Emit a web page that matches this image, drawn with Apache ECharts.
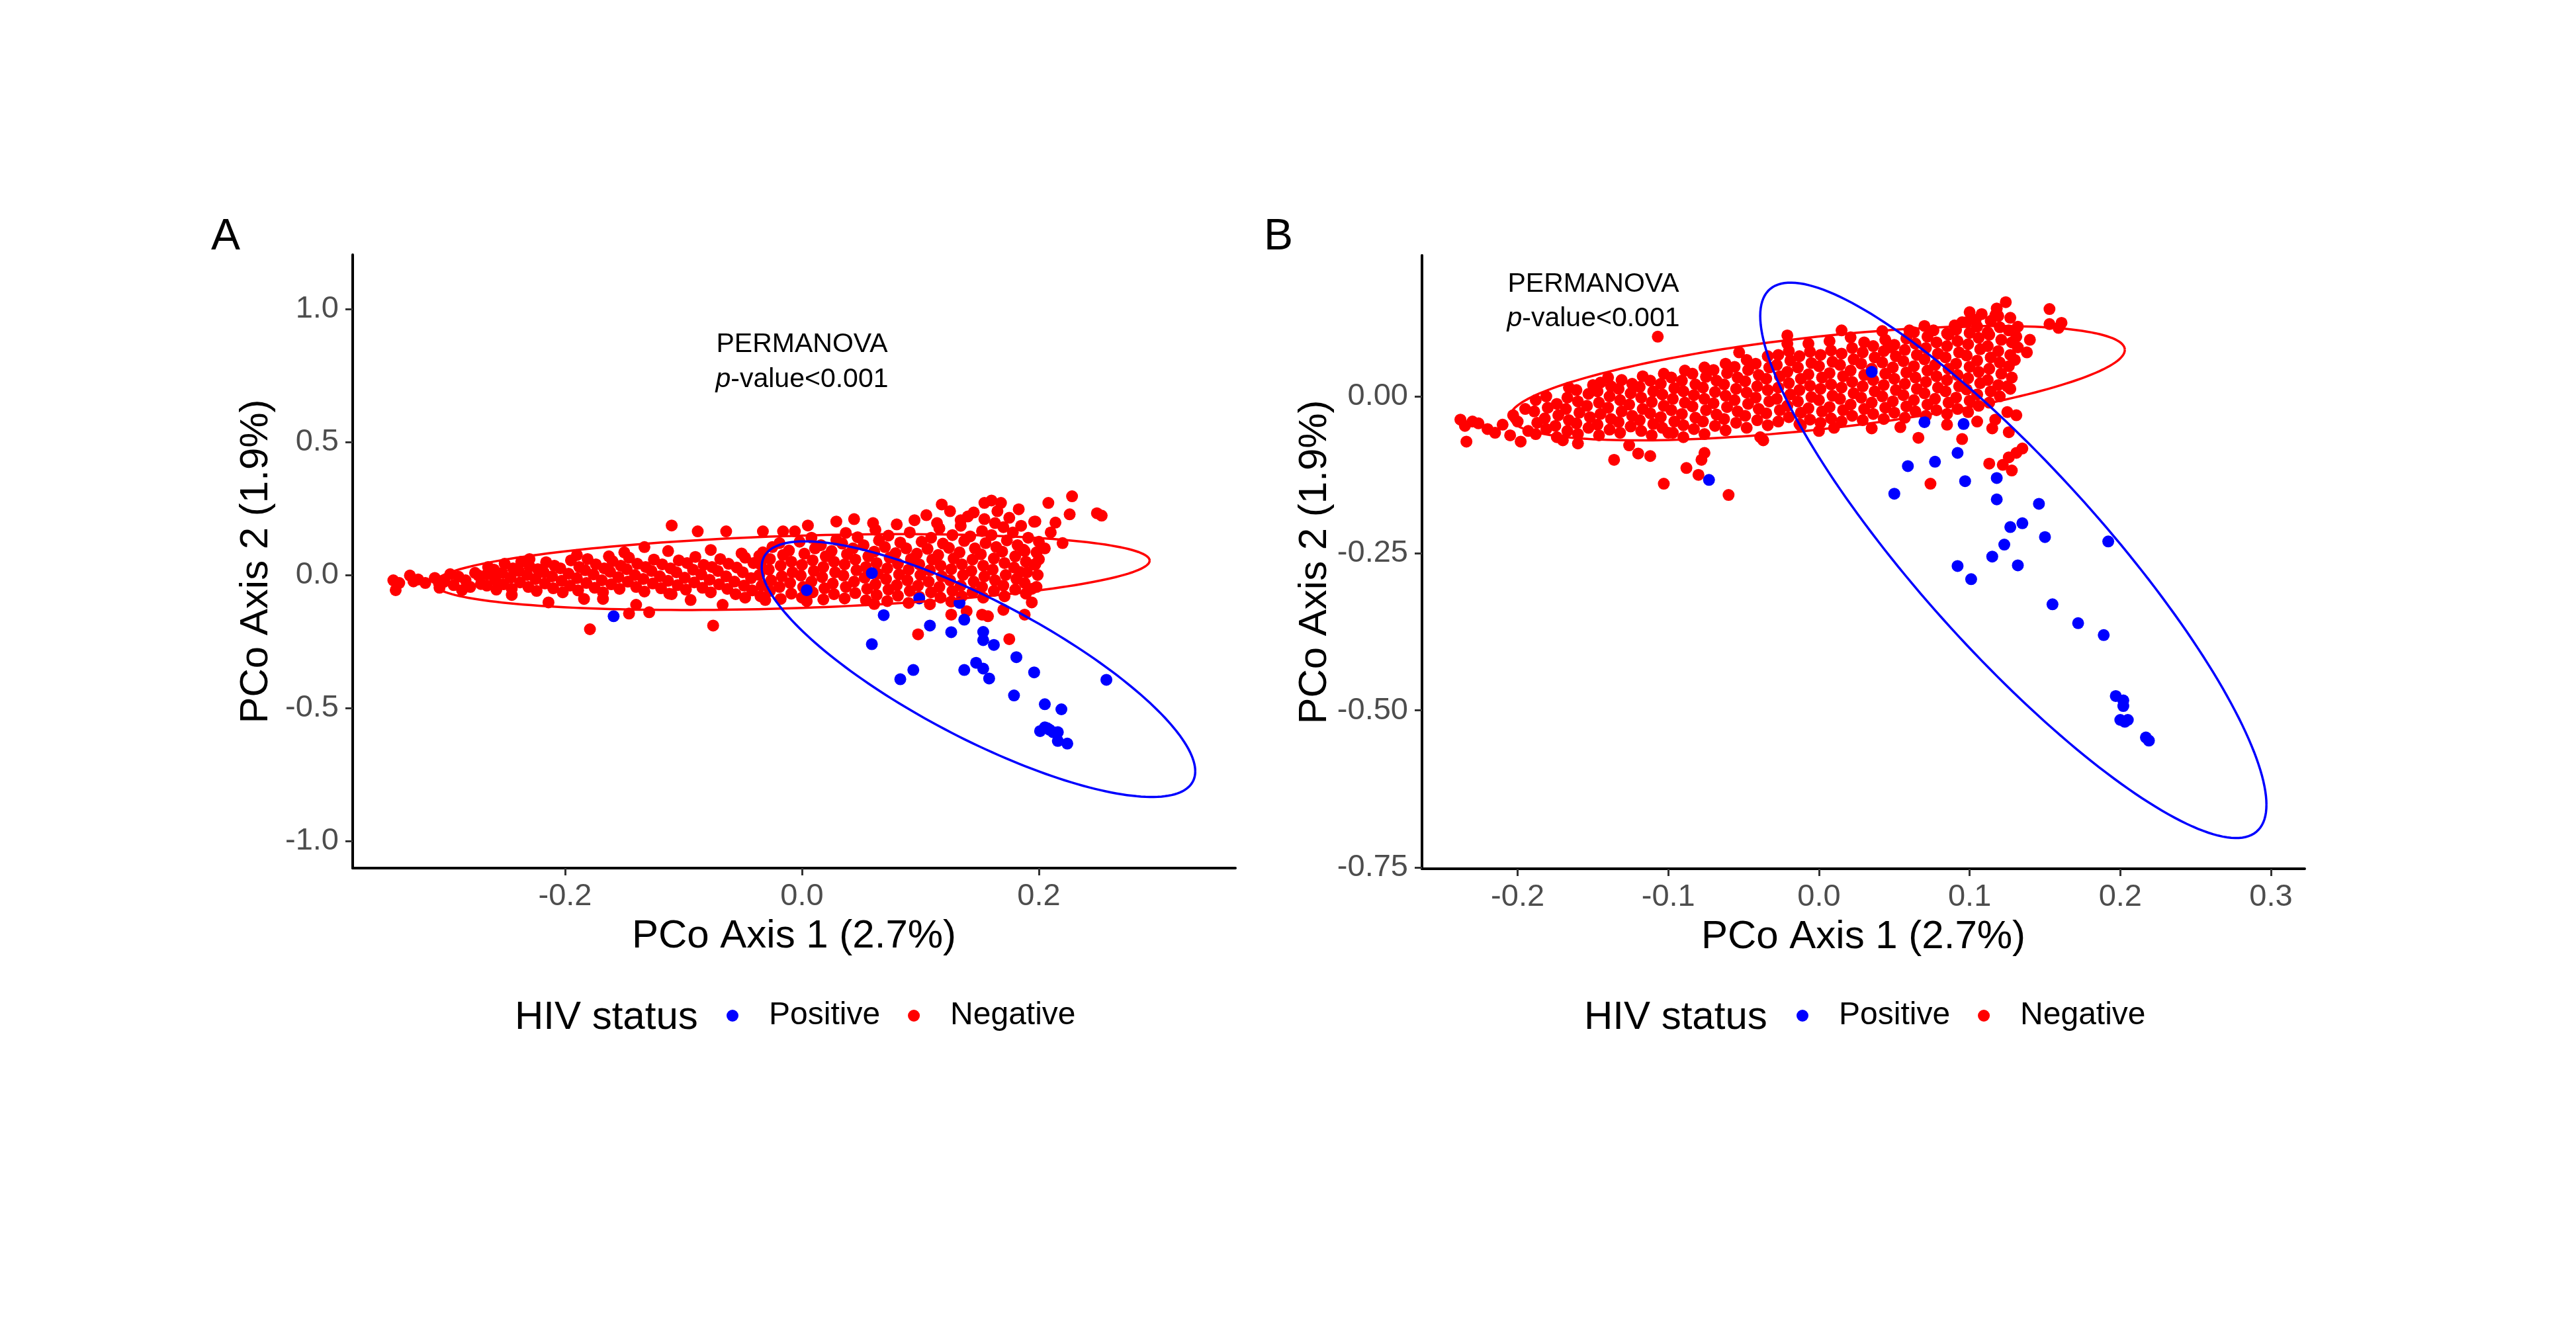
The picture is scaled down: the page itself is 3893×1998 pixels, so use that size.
<!DOCTYPE html>
<html><head><meta charset="utf-8">
<script src="https://cdn.jsdelivr.net/npm/echarts@6/dist/echarts.min.js"></script>
<style>html,body{margin:0;padding:0;background:#fff}#c{width:3893px;height:1998px}</style>
</head><body><div id="c"></div>
<script>
const FONT = '"Liberation Sans", Arial, Helvetica, sans-serif';
const legendItems = ['Positive', 'Negative'];
const legendTitle = 'HIV status';
const panelLabels = ['A', 'B'];
const xName = 'PCo Axis 1 (2.7%)';
const yName = 'PCo Axis 2 (1.9%)';
const noteLine1 = 'PERMANOVA';
const noteLine2 = '{i|p}-value<0.001';

const xTicksA = [-0.2, 0.0, 0.2];
const yTicksA = [-1.0, -0.5, 0.0, 0.5, 1.0];
const xTicksB = [-0.2, -0.1, 0.0, 0.1, 0.2, 0.3];
const yTicksB = [-0.75, -0.50, -0.25, 0.00];

// ellipse: [cx, cy, ax, ay, bx, by]  (centre and two conjugate semi-axes, data units)
const ellPosA = [0.149, -0.354, 0.183, -0.384, 0, 0.289];
const ellNegA = [-0.0085, 0.011, 0.302, 0.043, 0, 0.136];
const ellPosB = [0.129, -0.261, 0.168, -0.389, 0, 0.210];
const ellNegB = [-0.001, 0.021, 0.204, 0.053, 0, 0.074];

const posA = [
[-0.159,-0.155],[0.004,-0.057],[0.059,0.007],[0.069,-0.151],[0.059,-0.260],[0.099,-0.088],[0.108,-0.190],
[0.083,-0.392],[0.094,-0.357],[0.126,-0.215],[0.133,-0.105],[0.137,-0.168],[0.153,-0.214],[0.153,-0.245],
[0.162,-0.263],[0.137,-0.357],[0.147,-0.330],[0.153,-0.352],[0.158,-0.389],[0.181,-0.309],[0.196,-0.366],
[0.179,-0.453],[0.205,-0.486],[0.219,-0.505],[0.257,-0.394],[0.201,-0.587],[0.205,-0.573],[0.209,-0.582],
[0.212,-0.591],[0.216,-0.591],[0.216,-0.624],[0.224,-0.634],[0.207,-0.576]
];

const negA = [
[-0.345,-0.020],[-0.343,-0.057],[-0.340,-0.030],[-0.331,-0.002],[-0.328,-0.024],[-0.324,-0.017],[-0.318,-0.030],
[-0.310,-0.011],[-0.306,-0.048],[-0.302,-0.025],[-0.297,0.003],[-0.294,-0.038],[-0.290,-0.006],[-0.287,-0.057],
[-0.284,-0.020],[-0.280,-0.045],[-0.276,0.008],[-0.273,-0.002],[-0.271,-0.034],
[-0.266,-0.040],[-0.266,0.002],[-0.265,0.030],[-0.259,-0.018],[-0.260,0.020],[-0.258,-0.055],
[-0.252,-0.035],[-0.253,0.008],[-0.251,0.042],[-0.245,-0.052],[-0.246,-0.010],[-0.244,0.025],
[-0.238,-0.028],[-0.239,0.015],[-0.237,0.050],[-0.231,-0.045],[-0.232,0.000],[-0.230,0.032],
[-0.224,-0.060],[-0.225,-0.015],[-0.223,0.022],[-0.217,-0.032],[-0.218,0.010],[-0.216,0.048],
[-0.210,-0.050],[-0.211,-0.005],[-0.209,0.035],[-0.203,-0.022],[-0.204,0.025],[-0.202,-0.065],
[-0.196,-0.040],[-0.197,0.005],[-0.195,0.055],[-0.189,-0.058],[-0.190,-0.012],[-0.188,0.030],
[-0.182,-0.030],[-0.183,0.018],[-0.181,0.060],[-0.175,-0.048],[-0.176,0.002],[-0.174,0.040],
[-0.168,-0.065],[-0.169,-0.020],[-0.167,0.025],[-0.161,-0.035],[-0.162,0.012],[-0.160,0.052],
[-0.154,-0.052],[-0.155,-0.008],[-0.153,0.035],[-0.147,-0.025],[-0.148,0.022],[-0.146,0.065],
[-0.140,-0.045],[-0.141,0.000],[-0.139,0.042],[-0.133,-0.062],[-0.134,-0.015],[-0.132,0.030],
[-0.126,-0.032],[-0.127,0.015],[-0.125,0.058],[-0.119,-0.050],[-0.120,-0.005],[-0.118,0.040],
[-0.112,-0.070],[-0.113,-0.022],[-0.111,0.025],[-0.105,-0.038],[-0.106,0.010],[-0.104,0.055],
[-0.098,-0.055],[-0.099,-0.010],[-0.097,0.045],[-0.091,-0.028],[-0.092,0.020],[-0.090,0.068],
[-0.084,-0.048],[-0.085,0.002],[-0.083,0.038],[-0.077,-0.065],[-0.078,-0.018],[-0.076,0.030],
[-0.070,-0.035],[-0.071,0.015],[-0.069,0.060],[-0.063,-0.052],[-0.064,-0.005],[-0.062,0.042],
[-0.056,-0.072],[-0.057,-0.025],[-0.055,0.028],[-0.049,-0.040],[-0.050,0.010],[-0.048,0.065],
[-0.042,-0.058],[-0.043,-0.012],[-0.041,0.045],
[-0.133,0.105],[-0.110,0.186],[-0.088,0.164],[-0.064,0.164],[-0.113,0.090],[-0.077,0.094],[-0.051,0.081],
[-0.036,0.072],[-0.163,0.070],[-0.190,0.075],[-0.150,0.085],
[-0.214,-0.103],[-0.179,-0.204],[-0.184,-0.090],[-0.168,-0.090],[-0.146,-0.145],[-0.129,-0.140],[-0.140,-0.112],
[-0.075,-0.190],[-0.067,-0.112],[-0.110,-0.072],[-0.094,-0.094],[-0.048,-0.085],[-0.031,-0.094],[0.004,-0.098],
[-0.245,-0.075],[-0.230,0.060],
[-0.035,-0.080],[-0.034,-0.040],[-0.036,0.000],[-0.035,0.040],[-0.033,0.085],
[-0.027,-0.060],[-0.026,-0.020],[-0.028,0.020],[-0.027,0.060],[-0.025,0.105],
[-0.018,-0.090],[-0.019,-0.045],[-0.017,-0.005],[-0.018,0.035],[-0.016,0.075],[-0.019,0.120],
[-0.009,-0.070],[-0.010,-0.030],[-0.008,0.010],[-0.009,0.050],[-0.011,0.092],
[0.000,-0.085],[0.001,-0.045],[-0.001,-0.002],[0.000,0.038],[0.002,0.080],[-0.002,0.125],
[0.009,-0.065],[0.008,-0.025],[0.010,0.015],[0.009,0.055],[0.011,0.100],[0.008,0.140],
[0.018,-0.092],[0.019,-0.050],[0.017,-0.008],[0.018,0.030],[0.020,0.070],[0.016,0.112],
[0.027,-0.072],[0.026,-0.032],[0.028,0.010],[0.027,0.050],[0.025,0.090],[0.029,0.132],
[0.036,-0.088],[0.037,-0.045],[0.035,-0.002],[0.036,0.040],[0.038,0.078],[0.034,0.118],[0.037,0.158],
[0.045,-0.068],[0.044,-0.025],[0.046,0.018],[0.045,0.058],[0.043,0.100],[0.047,0.142],
[0.054,-0.095],[0.055,-0.052],[0.053,-0.010],[0.054,0.030],[0.056,0.070],[0.052,0.112],
[0.063,-0.075],[0.062,-0.035],[0.064,0.005],[0.063,0.045],[0.061,0.088],[0.065,0.130],[0.062,0.170],
[0.072,-0.098],[0.073,-0.055],[0.071,-0.015],[0.072,0.025],[0.074,0.065],[0.070,0.105],[0.073,0.148],
[0.081,-0.078],[0.080,-0.038],[0.082,0.002],[0.081,0.042],[0.079,0.082],[0.083,0.122],
[0.090,-0.105],[0.091,-0.060],[0.089,-0.020],[0.090,0.020],[0.092,0.060],[0.088,0.100],[0.091,0.160],
[0.099,-0.082],[0.098,-0.040],[0.100,0.000],[0.099,0.040],[0.097,0.080],[0.101,0.125],
[0.108,-0.110],[0.109,-0.065],[0.107,-0.025],[0.108,0.018],[0.110,0.058],[0.106,0.098],[0.109,0.140],
[0.117,-0.085],[0.116,-0.045],[0.118,-0.005],[0.117,0.035],[0.115,0.075],[0.119,0.118],[0.116,0.175],
[0.126,-0.100],[0.127,-0.060],[0.125,-0.020],[0.126,0.022],[0.128,0.062],[0.124,0.102],[0.127,0.150],
[0.135,-0.080],[0.134,-0.040],[0.136,0.000],[0.135,0.040],[0.133,0.085],[0.137,0.128],[0.134,0.185],
[0.144,-0.065],[0.145,-0.025],[0.143,0.015],[0.144,0.058],[0.146,0.100],[0.142,0.145],
[0.153,-0.085],[0.152,-0.045],[0.154,-0.005],[0.153,0.035],[0.151,0.078],[0.155,0.120],[0.152,0.165],[0.154,0.210],
[0.162,-0.060],[0.163,-0.020],[0.161,0.020],[0.162,0.062],[0.164,0.105],[0.160,0.150],[0.163,0.195],
[0.171,-0.080],[0.170,-0.040],[0.172,0.000],[0.171,0.045],[0.169,0.088],[0.173,0.130],[0.170,0.180],
[0.180,-0.055],[0.181,-0.015],[0.179,0.028],[0.180,0.070],[0.182,0.112],[0.178,0.160],
[0.189,-0.070],[0.188,-0.030],[0.190,0.010],[0.189,0.050],[0.187,0.095],[0.191,0.140],
[0.198,-0.045],[0.199,0.000],[0.197,0.040],[0.198,0.085],[0.200,0.125],[0.196,0.200],
[0.118,0.265],[0.154,0.271],[0.160,0.280],[0.168,0.271],[0.183,0.247],[0.208,0.271],[0.228,0.296],
[0.226,0.228],[0.249,0.232],[0.253,0.223],[0.214,0.197],[0.197,0.201],[0.095,0.206],[0.114,0.195],
[0.134,0.206],[0.029,0.201],[0.044,0.210],[0.005,0.186],[-0.006,0.164],[-0.016,0.164],[-0.033,0.164],
[0.188,0.090],[0.200,0.059],[0.196,0.039],[0.184,0.011],[0.194,-0.052],[0.194,-0.103],[0.188,-0.149],
[0.170,-0.131],[0.175,-0.241],[0.157,-0.155],[0.152,-0.149],[0.139,-0.136],[0.126,-0.149],[0.098,-0.223],
[0.061,-0.109],[0.145,0.235],[0.165,0.240],[0.175,0.215],[0.140,0.220],[0.185,0.185],[0.125,0.240],
[0.105,0.225],[0.080,0.190],[0.060,0.195],[0.210,0.160],[0.220,0.120],[0.205,0.100]
];

const posB = [
[0.035,0.039],[0.070,-0.041],[0.096,-0.044],[0.092,-0.090],[0.077,-0.104],[0.059,-0.111],[0.097,-0.135],
[0.118,-0.130],[0.050,-0.155],[0.118,-0.164],[-0.073,-0.133],[0.146,-0.171],[0.135,-0.202],[0.127,-0.208],
[0.150,-0.224],[0.123,-0.236],[0.192,-0.231],[0.115,-0.255],[0.092,-0.270],[0.101,-0.291],[0.132,-0.269],
[0.155,-0.331],[0.172,-0.361],[0.189,-0.380],[0.197,-0.477],[0.202,-0.484],[0.202,-0.493],[0.200,-0.515],
[0.203,-0.518],[0.205,-0.515],[0.217,-0.543],[0.219,-0.548]
];

const negB = [
[-0.238,-0.037],[-0.235,-0.047],[-0.234,-0.072],[-0.230,-0.040],[-0.226,-0.043],[-0.220,-0.052],[-0.215,-0.058],
[-0.210,-0.045],[-0.205,-0.062],[-0.198,-0.072],[-0.200,-0.040],[-0.195,-0.020],[-0.203,-0.030],[-0.193,-0.055],
[-0.188,-0.060],[-0.187,-0.042],[-0.189,-0.024],[-0.188,-0.006],
[-0.181,-0.052],[-0.182,-0.035],[-0.180,-0.018],[-0.181,0.000],
[-0.174,-0.065],[-0.175,-0.047],[-0.173,-0.030],[-0.174,-0.012],
[-0.167,-0.055],[-0.166,-0.038],[-0.168,-0.020],[-0.167,-0.002],[-0.166,0.014],
[-0.160,-0.060],[-0.161,-0.043],[-0.159,-0.026],[-0.160,-0.008],[-0.161,0.010],
[-0.153,-0.050],[-0.152,-0.033],[-0.154,-0.015],[-0.153,0.004],
[-0.146,-0.062],[-0.147,-0.045],[-0.145,-0.028],[-0.146,-0.010],[-0.147,0.008],[-0.145,0.022],
[-0.139,-0.053],[-0.138,-0.036],[-0.140,-0.018],[-0.139,0.000],[-0.138,0.016],
[-0.132,-0.058],[-0.133,-0.041],[-0.131,-0.024],[-0.132,-0.006],[-0.133,0.012],[-0.131,0.026],
[-0.125,-0.048],[-0.124,-0.031],[-0.126,-0.013],[-0.125,0.005],[-0.124,0.020],
[-0.118,-0.055],[-0.119,-0.038],[-0.117,-0.020],[-0.118,-0.002],[-0.119,0.015],[-0.117,0.032],
[-0.111,-0.062],[-0.110,-0.044],[-0.112,-0.027],[-0.111,-0.009],[-0.110,0.008],[-0.112,0.025],
[-0.104,-0.050],[-0.105,-0.033],[-0.103,-0.015],[-0.104,0.003],[-0.105,0.020],[-0.103,0.036],
[-0.097,-0.058],[-0.096,-0.040],[-0.098,-0.022],[-0.097,-0.004],[-0.096,0.013],[-0.098,0.030],
[-0.090,-0.046],[-0.091,-0.028],[-0.089,-0.010],[-0.090,0.008],[-0.091,0.025],[-0.089,0.041],
[-0.083,-0.052],[-0.082,-0.034],[-0.084,-0.016],[-0.083,0.002],[-0.082,0.019],[-0.084,0.036],
[-0.076,-0.060],[-0.077,-0.040],[-0.075,-0.022],[-0.076,-0.004],[-0.077,0.014],[-0.075,0.031],[-0.076,0.046],
[-0.069,-0.047],[-0.068,-0.029],[-0.070,-0.011],[-0.069,0.007],[-0.068,0.025],[-0.070,0.042],
[-0.062,-0.054],[-0.063,-0.036],[-0.061,-0.017],[-0.062,0.001],[-0.063,0.019],[-0.061,0.037],[-0.062,0.052],
[-0.055,-0.042],[-0.054,-0.024],[-0.056,-0.006],[-0.055,0.012],[-0.054,0.030],[-0.056,0.047],
[-0.048,-0.050],[-0.049,-0.031],[-0.047,-0.012],[-0.048,0.006],[-0.049,0.024],[-0.047,0.042],[-0.048,0.058],
[-0.041,-0.038],[-0.040,-0.020],[-0.042,-0.002],[-0.041,0.016],[-0.040,0.034],[-0.042,0.052],
[-0.034,-0.046],[-0.035,-0.027],[-0.033,-0.008],[-0.034,0.010],[-0.035,0.028],[-0.033,0.046],[-0.034,0.064],
[-0.027,-0.040],[-0.026,-0.022],[-0.028,-0.004],[-0.027,0.014],[-0.026,0.032],[-0.028,0.050],[-0.027,0.066],
[-0.020,-0.033],[-0.021,-0.015],[-0.019,0.003],[-0.020,0.021],[-0.021,0.039],[-0.019,0.057],[-0.020,0.072],
[-0.013,-0.044],[-0.012,-0.026],[-0.014,-0.008],[-0.013,0.010],[-0.012,0.028],[-0.014,0.046],[-0.013,0.064],
[-0.006,-0.037],[-0.007,-0.019],[-0.005,-0.001],[-0.006,0.017],[-0.007,0.035],[-0.005,0.053],[-0.006,0.071],[-0.007,0.084],
[0.001,-0.042],[0.002,-0.024],[0.000,-0.006],[0.001,0.012],[0.002,0.030],[0.000,0.048],[0.001,0.066],
[0.008,-0.035],[0.007,-0.017],[0.009,0.001],[0.008,0.019],[0.007,0.037],[0.009,0.055],[0.008,0.073],[0.007,0.088],
[0.015,-0.040],[0.016,-0.022],[0.014,-0.004],[0.015,0.014],[0.016,0.032],[0.014,0.050],[0.015,0.068],
[0.022,-0.031],[0.021,-0.013],[0.023,0.005],[0.022,0.023],[0.021,0.041],[0.023,0.059],[0.022,0.077],[0.021,0.094],
[0.029,-0.038],[0.030,-0.020],[0.028,-0.002],[0.029,0.016],[0.030,0.034],[0.028,0.052],[0.029,0.070],[0.030,0.086],
[0.036,-0.028],[0.035,-0.010],[0.037,0.008],[0.036,0.026],[0.035,0.044],[0.037,0.062],[0.036,0.080],
[0.043,-0.036],[0.044,-0.018],[0.042,0.000],[0.043,0.018],[0.044,0.036],[0.042,0.054],[0.043,0.072],[0.044,0.090],[0.042,0.104],
[0.050,-0.026],[0.049,-0.008],[0.051,0.010],[0.050,0.028],[0.049,0.046],[0.051,0.064],[0.050,0.082],
[0.057,-0.034],[0.058,-0.016],[0.056,0.002],[0.057,0.020],[0.058,0.038],[0.056,0.056],[0.057,0.074],[0.058,0.092],
[0.064,-0.024],[0.063,-0.006],[0.065,0.012],[0.064,0.030],[0.063,0.048],[0.065,0.066],[0.064,0.084],[0.063,0.102],
[0.071,-0.031],[0.072,-0.013],[0.070,0.005],[0.071,0.023],[0.072,0.041],[0.070,0.059],[0.071,0.077],[0.072,0.095],[0.070,0.112],
[0.078,-0.022],[0.077,-0.004],[0.079,0.014],[0.078,0.032],[0.077,0.050],[0.079,0.068],[0.078,0.086],
[0.085,-0.028],[0.086,-0.010],[0.084,0.008],[0.085,0.026],[0.086,0.044],[0.084,0.062],[0.085,0.080],[0.086,0.098],
[0.092,-0.020],[0.091,-0.002],[0.093,0.016],[0.092,0.034],[0.091,0.052],[0.093,0.070],[0.092,0.088],[0.091,0.106],
[0.099,-0.025],[0.100,-0.007],[0.098,0.011],[0.099,0.029],[0.100,0.047],[0.098,0.065],[0.099,0.083],[0.100,0.101],[0.098,0.118],
[0.106,-0.015],[0.105,0.003],[0.107,0.021],[0.106,0.039],[0.105,0.057],[0.107,0.075],[0.106,0.093],[0.105,0.111],
[0.113,-0.010],[0.114,0.008],[0.112,0.026],[0.113,0.044],[0.114,0.062],[0.112,0.080],[0.113,0.098],[0.114,0.120],
[0.120,0.000],[0.119,0.018],[0.121,0.036],[0.120,0.054],[0.119,0.072],[0.121,0.090],[0.120,0.110],[0.119,0.128],
[0.127,0.012],[0.128,0.030],[0.126,0.048],[0.127,0.066],[0.128,0.086],[0.126,0.105],
[-0.107,0.095],[-0.136,-0.101],[-0.126,-0.078],[-0.120,-0.091],[-0.112,-0.095],[-0.103,-0.139],[-0.088,-0.114],
[-0.080,-0.125],[-0.078,-0.101],[-0.076,-0.090],[-0.060,-0.157],[-0.039,-0.065],[-0.037,-0.070],[-0.012,-0.047],
[-0.021,0.097],[-0.021,0.084],[0.015,0.105],[-0.053,0.070],[0.066,-0.066],[0.074,-0.139],[0.095,-0.068],
[0.113,-0.107],[0.122,-0.109],[0.126,-0.097],[0.131,-0.090],[0.135,-0.083],[0.128,-0.118],[0.126,-0.057],
[0.115,-0.051],[0.117,-0.037],[0.125,-0.025],[0.131,-0.030],[0.125,0.016],[0.124,0.150],[0.153,0.139],
[0.153,0.115],[0.161,0.117],[0.159,0.109],[0.100,0.134],[0.108,0.131],[0.117,0.129],[0.127,0.125],
[0.095,0.118],[0.132,0.111],[0.131,0.095],[0.132,0.078],[0.130,0.058],[0.076,0.105],[0.060,0.105],
[0.047,0.078],[0.035,-0.051],[0.054,-0.049],[-0.150,0.018],[-0.140,0.030],[-0.170,-0.070],[-0.160,-0.075],
[-0.100,-0.058],[-0.090,-0.065],[0.000,-0.055],[0.010,-0.050],[0.085,-0.045],[0.105,-0.040],[0.112,0.102],
[0.118,0.140],[0.104,0.122],[0.090,0.113],[0.085,0.100],[0.140,0.090],[0.138,0.070]
];

const chart = echarts.init(document.getElementById('c'), null, {renderer: 'canvas'});

function xAxisCfg(gi, min, max, ticks, dec) {
  return {
    type: 'value', gridIndex: gi, min: min, max: max,
    name: xName, nameLocation: 'middle', nameGap: 73,
    nameTextStyle: {fontSize: 60, color: '#000', fontFamily: FONT},
    axisLine: {show: true, onZero: false, lineStyle: {color: '#000', width: 4}},
    axisTick: {show: true, length: 11, customValues: ticks, lineStyle: {color: '#333', width: 3}},
    axisLabel: {fontSize: 47, color: '#4D4D4D', fontFamily: FONT, margin: 20, customValues: ticks,
      formatter: v => Number(v).toFixed(dec)},
    splitLine: {show: false}
  };
}
function yAxisCfg(gi, min, max, ticks, dec) {
  return {
    type: 'value', gridIndex: gi, min: min, max: max,
    name: yName, nameLocation: 'middle', nameGap: 116,
    nameTextStyle: {fontSize: 60, color: '#000', fontFamily: FONT},
    axisLine: {show: true, onZero: false, lineStyle: {color: '#000', width: 4}},
    axisTick: {show: true, length: 11, customValues: ticks, lineStyle: {color: '#333', width: 3}},
    axisLabel: {fontSize: 47, color: '#4D4D4D', fontFamily: FONT, margin: 21, customValues: ticks,
      formatter: v => Number(v).toFixed(dec)},
    splitLine: {show: false}
  };
}
function ellipseRender(color) {
  return function (params, api) {
    const cx = api.value(0), cy = api.value(1), ax = api.value(2), ay = api.value(3), bx = api.value(4), by = api.value(5);
    const pts = [];
    const n = 200;
    for (let i = 0; i <= n; i++) {
      const t = i / n * 2 * Math.PI;
      pts.push(api.coord([cx + ax * Math.cos(t) + bx * Math.sin(t), cy + ay * Math.cos(t) + by * Math.sin(t)]));
    }
    return {type: 'polyline', shape: {points: pts}, style: {stroke: color, lineWidth: 3.5, fill: null}, silent: true};
  };
}
function scatter(name, gi, data, color) {
  return {type: 'scatter', name: name, xAxisIndex: gi, yAxisIndex: gi, data: data, symbol: 'circle',
    symbolSize: 18, itemStyle: {color: color, opacity: 1}, silent: true, emphasis: {disabled: true}, z: 2};
}
function ellipse(gi, params, color) {
  return {type: 'custom', name: 'ellipse', xAxisIndex: gi, yAxisIndex: gi, data: [params],
    encode: {x: 0, y: 1}, renderItem: ellipseRender(color), silent: true, z: 3, clip: false};
}
function legendCfg(left) {
  return {data: legendItems, left: left, top: 1511, orient: 'horizontal', itemWidth: 18, itemHeight: 18,
    itemGap: 42, icon: 'circle', padding: 0, selectedMode: false,
    textStyle: {fontSize: 48, color: '#000', fontFamily: FONT, padding: [0, 0, 0, 41]}};
}
function txt(text, x, y, size, align, rich) {
  const st = {text: text, x: x, y: y, fill: '#000', fontSize: size, fontFamily: FONT,
    align: align, verticalAlign: 'middle'};
  if (rich) st.rich = {i: {fontStyle: 'italic', fontSize: size, fontFamily: FONT, fill: '#000'}};
  return {type: 'text', style: st, silent: true};
}

chart.setOption({
  animation: false,
  backgroundColor: '#fff',
  grid: [
    {left: 533, top: 385, width: 1334, height: 927},
    {left: 2149, top: 386, width: 1334, height: 927}
  ],
  xAxis: [xAxisCfg(0, -0.3793, 0.3659, xTicksA, 1), xAxisCfg(1, -0.2635, 0.3224, xTicksB, 1)],
  yAxis: [yAxisCfg(0, -1.102, 1.204, yTicksA, 1), yAxisCfg(1, -0.752, 0.2244, yTicksB, 2)],
  legend: [legendCfg(1098), legendCfg(2715)],
  series: [
    scatter('Negative', 0, negA, '#FF0000'),
    scatter('Positive', 0, posA, '#0000FF'),
    ellipse(0, ellNegA, '#FF0000'),
    ellipse(0, ellPosA, '#0000FF'),
    scatter('Negative', 1, negB, '#FF0000'),
    scatter('Positive', 1, posB, '#0000FF'),
    ellipse(1, ellNegB, '#FF0000'),
    ellipse(1, ellPosB, '#0000FF')
  ],
  graphic: [
    txt(panelLabels[0], 341, 359, 66, 'center'),
    txt(panelLabels[1], 1932, 359, 66, 'center'),
    txt(legendTitle, 778, 1538, 60, 'left'),
    txt(legendTitle, 2394, 1538, 60, 'left'),
    txt(noteLine1, 1212, 521, 41, 'center'),
    txt(noteLine2, 1212, 574, 41, 'center', true),
    txt(noteLine1, 2408, 430, 41, 'center'),
    txt(noteLine2, 2408, 482, 41, 'center', true)
  ]
});
</script>
</body></html>
